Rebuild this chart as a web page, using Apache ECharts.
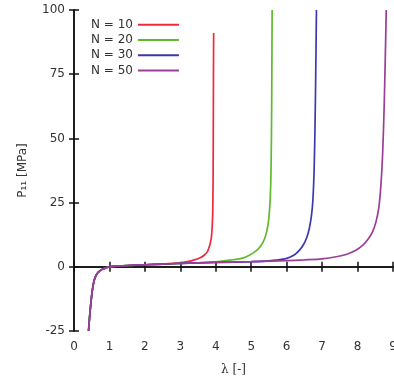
<!DOCTYPE html>
<html><head><meta charset="utf-8">
<script src="https://cdn.jsdelivr.net/npm/echarts@6/dist/echarts.min.js"></script>
<style>html,body{margin:0;padding:0;background:#fff}#c{width:394px;height:385px}</style>
</head><body><div id="c"></div>
<script>
// Series names
const seriesNames = ['N = 10', 'N = 20', 'N = 30', 'N = 50'];
// N = 10
const lambdaN10 = [0.41,0.44,0.47,0.50,0.53,0.56,0.60,0.65,0.72,0.8,0.9,1.0,1.25,1.5,2.0,2.5,3.0,3.2,3.4,3.56,3.68,3.76,3.81,3.85,3.88,3.9,3.915,3.925,3.93,3.935,3.94];
const pN10      = [-25,-19.5,-15,-11,-8,-5.8,-4.0,-2.7,-1.7,-1.0,-0.4,0,0.3,0.5,0.8,1.05,1.5,2.0,2.7,3.5,4.6,5.8,7.5,9.5,12,16,22,35,55,75,91];
// N = 20
const lambdaN20 = [0.41,0.44,0.47,0.50,0.53,0.56,0.60,0.65,0.72,0.8,0.9,1.0,1.25,1.5,2.0,2.5,3.0,3.5,4.0,4.4,4.78,4.97,5.1,5.2,5.3,5.38,5.44,5.49,5.53,5.555,5.57,5.58,5.59];
const pN20      = [-25,-19.5,-15,-11,-8,-5.8,-4.0,-2.7,-1.7,-1.0,-0.4,0,0.3,0.5,0.8,1.05,1.3,1.5,1.9,2.6,3.5,4.7,5.8,7.0,8.8,11,14,18,25,35,50,70,100];
// N = 30
const lambdaN30 = [0.41,0.44,0.47,0.50,0.53,0.56,0.60,0.65,0.72,0.8,0.9,1.0,1.25,1.5,2.0,2.5,3.0,4.0,5.0,5.4,5.7,6.0,6.2,6.35,6.48,6.57,6.64,6.7,6.74,6.775,6.8,6.82,6.84];
const pN30      = [-25,-19.5,-15,-11,-8,-5.8,-4.0,-2.7,-1.7,-1.0,-0.4,0,0.3,0.5,0.8,1.05,1.3,1.7,2.0,2.2,2.6,3.3,4.5,6.3,8.8,11.5,15,20,26,38,55,75,100];
// N = 50
const lambdaN50 = [0.41,0.44,0.47,0.50,0.53,0.56,0.60,0.65,0.72,0.8,0.9,1.0,1.25,1.5,2.0,2.5,3.0,4.0,5.0,6.0,6.5,7.0,7.4,7.7,7.95,8.15,8.3,8.42,8.52,8.6,8.66,8.71,8.75,8.78,8.81];
const pN50      = [-25,-19.5,-15,-11,-8,-5.8,-4.0,-2.7,-1.7,-1.0,-0.4,0,0.3,0.5,0.8,1.05,1.3,1.7,2.0,2.4,2.7,3.1,3.9,4.9,6.4,8.4,10.8,13.5,17.5,23,32,45,62,80,100];
// Axis ticks
const xTicks = [0,1,2,3,4,5,6,7,8,9];
const yTicks = [-25,0,25,50,75,100];

const colors = ['#f0283c', '#5fba2e', '#3a3aae', '#9a3e98'];
const allL = [lambdaN10, lambdaN20, lambdaN30, lambdaN50];
const allP = [pN10, pN20, pN30, pN50];

const chart = echarts.init(document.getElementById('c'));
const axisLine = {show: true, lineStyle: {color: '#111', width: 1.5}};
const tick = {show: true, inside: true, length: 5, lineStyle: {color: '#111', width: 1.5}};
const lbl = {color: '#333', fontSize: 12, fontFamily: 'DejaVu Sans'};
chart.setOption({
  animation: false,
  grid: {left: 74, right: 1, top: 10, bottom: 54, outerBoundsMode: 'none', containLabel: false},
  legend: {
    orient: 'vertical', left: 86, top: 13, align: 'right',
    itemWidth: 41, itemHeight: 2, itemGap: 2,
    icon: 'rect',
    textStyle: {color: '#333', fontSize: 12, fontFamily: 'DejaVu Sans', lineHeight: 13.3},
    data: seriesNames
  },
  xAxis: [{
    type: 'value', min: xTicks[0], max: xTicks[xTicks.length - 1], interval: 1,
    axisLine, axisTick: tick, splitLine: {show: false},
    axisLabel: Object.assign({margin: 10}, lbl),
    name: 'λ [-]', nameLocation: 'middle', nameGap: 33,
    nameTextStyle: {color: '#333', fontSize: 12, fontFamily: 'DejaVu Serif'}
  }, {
    type: 'value', position: 'top', min: 0, max: 9, interval: 1,
    axisLine, axisTick: tick, axisLabel: {show: false}, splitLine: {show: false}
  }],
  yAxis: [{
    type: 'value', min: yTicks[0], max: yTicks[yTicks.length - 1], interval: 25,
    axisLine, axisTick: tick, splitLine: {show: false},
    axisLabel: Object.assign({margin: 9}, lbl),
    name: 'P₁₁ [MPa]', nameLocation: 'middle', nameGap: 45, nameRotate: 90,
    nameTextStyle: {color: '#333', fontSize: 12, fontFamily: 'DejaVu Sans'}
  }, {
    type: 'value', position: 'right', min: -25, max: 100, interval: 25,
    axisLine, axisTick: tick, axisLabel: {show: false}, splitLine: {show: false}
  }],
  series: seriesNames.map((n, i) => ({
    name: n, type: 'line', showSymbol: false, symbol: 'none',
    smooth: 0.3, clip: true,
    lineStyle: {color: colors[i], width: 1.7},
    itemStyle: {color: colors[i]},
    data: allL[i].map((l, k) => [l, allP[i][k]])
  }))
});
</script></body></html>
